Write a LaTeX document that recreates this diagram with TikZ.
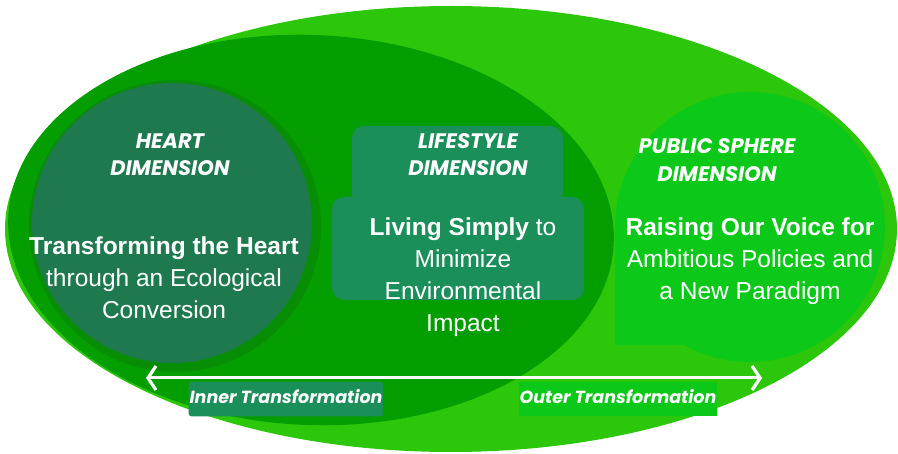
\documentclass[tikz,border=0pt]{standalone}
\usepackage{fontspec}
\setmainfont{Liberation Sans}
\newfontfamily\tagfont{Poppins}
\usetikzlibrary{arrows.meta}

\definecolor{outerG}{RGB}{44,198,10}
\definecolor{innerG}{RGB}{4,158,0}
\definecolor{ringG}{RGB}{7,142,4}
\definecolor{heartC}{RGB}{30,122,78}
\definecolor{lifeC}{RGB}{27,143,90}
\definecolor{pubC}{RGB}{12,200,24}

\begin{document}
\begin{tikzpicture}[x=1pt,y=-1pt,
  title/.style={text=white, align=center, font=\tagfont\bfseries\itshape\fontsize{21}{27.5}\selectfont},
  body/.style={text=white, align=center, font=\fontsize{24.5}{32}\selectfont},
  tag/.style={text=white, anchor=base, inner xsep=1pt, text height=19pt, text depth=9pt,
              font=\tagfont\bfseries\itshape\fontsize{17.5}{20}\selectfont},
  disc/.style={circle, inner sep=0pt}
]
\useasboundingbox (0,0) rectangle (898,454);

% nested fields
\fill[outerG] (451,229) ellipse [x radius=446, y radius=223];
\fill[innerG, rotate around={-2.5:(311,230)}] (311,230) ellipse [x radius=303, y radius=195];

% heart dimension disc with its darker rim
\fill[ringG] (175,226) circle [radius=146];
\node[disc, fill=heartC, minimum size=280pt] (heart) at (172,223) {};

% public sphere disc
\node[disc, fill=pubC, minimum size=270pt] (public) at (750,227) {};
\fill[pubC] (615,227) rectangle (687,345);

% lifestyle panels
\fill[lifeC, rounded corners=12pt] (352,126) rectangle (563,205);
\fill[lifeC, rounded corners=12pt] (332,197) rectangle (584,300);

% dimension titles
\node[title] (heartTitle) at (170,154.5) {HEART\\DIMENSION};
\node[title] (lifeTitle) at (468,154.5) {LIFESTYLE\\DIMENSION};
\node[title] (pubTitle) at (717,160) {PUBLIC SPHERE\\DIMENSION};

% dimension descriptions
\node[body] (heartBody) at (164,278) {{\bfseries Transforming the Heart}\\through an Ecological\\Conversion};
\node[body] (lifeBody) at (463,277) {{\bfseries Living Simply} to\\Minimize\\Environmental\\Impact};
\node[body] (pubBody) at (750,261) {{\bfseries Raising Our Voice for}\\Ambitious Policies and\\a New Paradigm};

% transformation axis
\coordinate (innerEnd) at (146,378);
\coordinate (outerEnd) at (762,378);
\draw[white, line width=3pt, line cap=round,
  {Straight Barb[length=8pt,width=24pt,line width=3.2pt]}-{Straight Barb[length=8pt,width=24pt,line width=3.2pt]}]
  (innerEnd) -- (outerEnd);

\node[tag, fill=lifeC, rounded corners=3pt] (innerTag) at (286,404) {Inner Transformation};
\node[tag, fill=pubC] (outerTag) at (618,404) {Outer Transformation};
\end{tikzpicture}
\end{document}
